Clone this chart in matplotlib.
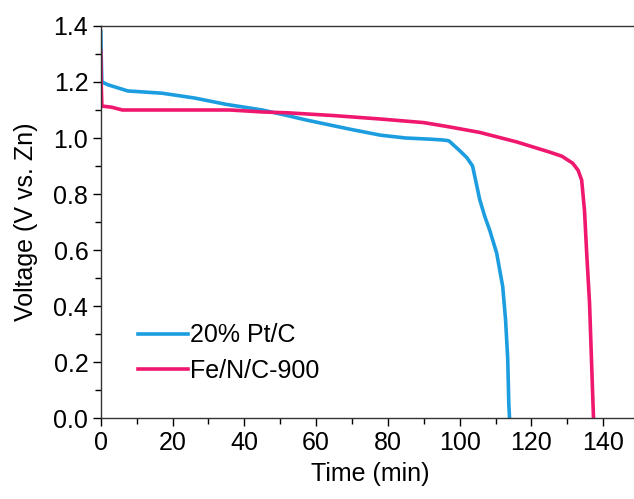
import numpy as np
import matplotlib.pyplot as plt
from matplotlib.ticker import MultipleLocator

plt.rcParams['font.family'] = ['Liberation Sans', 'DejaVu Sans']

# 20% Pt/C discharge curve
pt_time = [0, 0.1, 0.3, 2, 7.5, 17, 26, 35, 45, 52, 57, 64, 70, 78, 85, 91.6, 95.3,
           97, 100, 102, 103.6, 105.6, 107, 108.4, 110.3, 112, 112.8, 113.4, 113.7, 113.9]
pt_volt = [1.38, 1.30, 1.20, 1.19, 1.168, 1.16, 1.143, 1.12, 1.10, 1.08, 1.065, 1.046,
           1.03, 1.01, 1.0, 0.996, 0.993, 0.99, 0.955, 0.93, 0.90, 0.78, 0.72, 0.67,
           0.59, 0.47, 0.35, 0.21, 0.05, 0.0]

# Fe/N/C-900 discharge curve
fe_time = [0, 0.1, 0.3, 3, 6, 20, 36, 45, 52, 65, 77.7, 90, 97, 105.6, 115.9, 125,
           128.5, 131.5, 133, 134, 134.8, 135.4, 136.2, 137, 137.3]
fe_volt = [1.31, 1.20, 1.114, 1.11, 1.10, 1.10, 1.10, 1.093, 1.09, 1.08, 1.068, 1.055,
           1.04, 1.02, 0.986, 0.95, 0.935, 0.91, 0.885, 0.85, 0.74, 0.59, 0.41, 0.11, 0.0]

fig = plt.figure(figsize=(6.34, 4.99), dpi=100)
ax = fig.add_axes([0.159, 0.162, 0.849, 0.786])

ax.plot(pt_time, pt_volt, color='#1c9de0', lw=2.6, label='20% Pt/C')
ax.plot(fe_time, fe_volt, color='#f0186e', lw=2.6, label='Fe/N/C-900')

ax.set_xlim(0, 150)
ax.set_ylim(0, 1.4)
ax.xaxis.set_major_locator(MultipleLocator(20))
ax.xaxis.set_minor_locator(MultipleLocator(10))
ax.yaxis.set_major_locator(MultipleLocator(0.2))
ax.yaxis.set_minor_locator(MultipleLocator(0.1))
ax.yaxis.set_major_formatter(plt.FuncFormatter(lambda v, p: f'{v:.1f}'))

ax.tick_params(which='major', direction='out', length=6, width=1, labelsize=18, pad=3)
ax.tick_params(which='minor', direction='out', length=4, width=1)
ax.spines['right'].set_visible(False)
for s in ['left', 'bottom', 'top']:
    ax.spines[s].set_linewidth(1)
    ax.spines[s].set_color('#333333')

ax.set_xlabel('Time (min)', fontsize=18, labelpad=5)
ax.set_ylabel('Voltage (V vs. Zn)', fontsize=18, labelpad=11)

ax.legend(loc='lower left', bbox_to_anchor=(0.05, 0.065), frameon=False, fontsize=18,
          handlelength=2.0, handletextpad=0.1, labelspacing=0.45, borderaxespad=0)

fig.savefig('out.png', dpi=100)
